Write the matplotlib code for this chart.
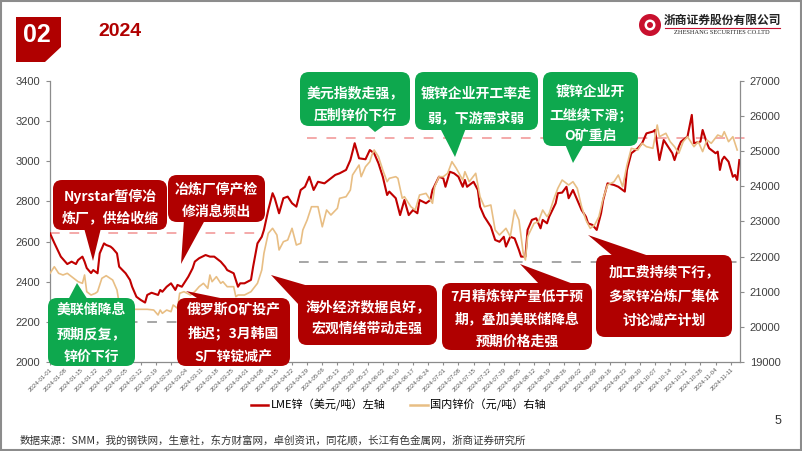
import matplotlib
matplotlib.use('Agg')
import matplotlib.pyplot as plt
import matplotlib.transforms as mtransforms
from matplotlib.patches import FancyBboxPatch, Polygon, Rectangle, Circle
from matplotlib.lines import Line2D
import pandas as pd

# ---------------- data ----------------
lme_days = [0, 2, 5, 7, 8, 10, 12, 13, 15, 16, 17, 19, 20, 22, 23, 25, 26, 28, 29, 31, 32, 35, 37, 38, 40,
            42, 44, 45, 47, 50, 51, 52, 54, 56, 58, 59, 61, 62, 64, 66, 67, 69, 72, 74, 76, 79, 81, 82, 85,
            87, 88, 90, 93, 94, 96, 98, 99, 101, 103, 104, 106, 108, 110, 112, 114, 116, 118, 120, 122, 124,
            127, 130, 132, 134, 137, 139, 141, 143, 146, 148, 150, 152, 154, 156, 157, 160, 162, 164, 166,
            168, 170, 171, 174, 176, 177, 180, 182, 183, 185, 187, 189, 191, 192, 193, 196, 198, 199, 201,
            204, 206, 208, 210, 211, 213, 215, 217, 218, 220, 221, 223, 225, 227, 228, 230, 231, 234, 235,
            237, 239, 240, 242, 244, 246, 248, 249, 251, 253, 255, 256, 258, 261, 263, 265, 266, 267, 269,
            272, 274, 276, 279, 280, 282, 284, 286, 288, 289, 291, 292, 295, 297, 298, 301, 302, 304, 305,
            308, 309, 310, 311, 312, 314, 316, 317, 318, 319]
lme_vals = [2641, 2593, 2525, 2500, 2488, 2500, 2488, 2508, 2525, 2500, 2468, 2443, 2458, 2442, 2541, 2591,
            2583, 2575, 2566, 2541, 2475, 2442, 2409, 2375, 2325, 2309, 2296, 2334, 2345, 2334, 2359, 2350,
            2375, 2392, 2359, 2384, 2375, 2392, 2425, 2467, 2500, 2517, 2533, 2525, 2525, 2500, 2475, 2458,
            2442, 2375, 2392, 2392, 2409, 2475, 2591, 2624, 2658, 2757, 2841, 2816, 2741, 2816, 2824, 2791,
            2774, 2857, 2873, 2923, 2857, 2898, 2890, 2915, 2932, 2940, 2957, 3006, 3090, 3015, 3010, 3056,
            3040, 2990, 2923, 2832, 2849, 2816, 2732, 2807, 2732, 2757, 2741, 2807, 2791, 2807, 2857, 2923,
            2915, 2873, 2948, 2940, 2923, 2873, 2907, 2873, 2898, 2857, 2774, 2724, 2674, 2608, 2599, 2624,
            2575, 2624, 2616, 2558, 2525, 2525, 2658, 2708, 2716, 2666, 2708, 2691, 2724, 2791, 2841, 2844,
            2873, 2816, 2857, 2807, 2757, 2724, 2691, 2683, 2658, 2741, 2807, 2890, 2882, 2873, 2857, 2849,
            2957, 3040, 3065, 3090, 3139, 3148, 3156, 3006, 3106, 3073, 3040, 3006, 3073, 3098, 3123, 3231,
            3090, 3098, 3156, 3090, 3065, 3040, 3048, 2957, 3006, 3023, 2998, 2923, 2932, 2907, 3006]

cn_days = [0, 2, 4, 6, 8, 11, 13, 15, 16, 17, 19, 21, 22, 24, 26, 29, 31, 32, 35, 37, 39, 43, 45, 48, 50,
           51, 52, 54, 56, 57, 59, 60, 62, 65, 67, 69, 71, 73, 74, 75, 77, 79, 80, 82, 85, 86, 87, 90, 93,
           96, 98, 99, 101, 103, 105, 106, 108, 110, 112, 114, 116, 117, 119, 121, 124, 126, 128, 130, 133,
           134, 137, 139, 140, 143, 144, 146, 148, 149, 150, 152, 154, 156, 157, 160, 161, 163, 164, 167,
           169, 171, 174, 177, 178, 180, 182, 184, 186, 188, 191, 192, 194, 197, 199, 201, 204, 206, 208,
           211, 213, 215, 217, 219, 220, 221, 224, 226, 228, 230, 231, 233, 235, 237, 240, 242, 244, 246,
           248, 250, 252, 254, 256, 258, 261, 263, 265, 267, 269, 272, 274, 276, 279, 281, 282, 285, 287,
           289, 291, 293, 295, 298, 300, 302, 304, 306, 309, 311, 312, 314, 316, 317, 318]
cn_vals = [21525, 21713, 21525, 21477, 21525, 21383, 21287, 21240, 21477, 21002, 20907, 20956, 21002, 21383,
           21457, 21334, 21050, 20671, 20576, 20529, 20500, 20500, 20500, 20480, 20338, 20480, 20386, 20480,
           20432, 20623, 20529, 20956, 21002, 20907, 21002, 21144, 21240, 21098, 21477, 21287, 21429, 21240,
           21287, 21144, 21144, 20859, 20907, 20907, 21002, 21240, 21619, 22095, 22664, 22806, 22616, 22189,
           22425, 22473, 22806, 22331, 22379, 22758, 23043, 23421, 23421, 22849, 23328, 23185, 23376, 23660,
           23706, 23897, 24324, 24608, 24276, 24560, 24703, 24900, 25036, 24845, 24466, 24133, 24229, 24276,
           24229, 23660, 23706, 23421, 23327, 23754, 23801, 23518, 23990, 24276, 24276, 24372, 24703, 24515,
           24181, 24418, 24133, 24372, 23706, 23421, 23470, 22758, 22616, 22806, 22567, 23327, 23043, 22095,
           21904, 22567, 22948, 22994, 23327, 23137, 23233, 23612, 23945, 24181, 24039, 24133, 23945, 23421,
           23043, 22806, 22899, 23137, 23660, 24039, 24133, 24324, 23990, 24608, 25084, 25036, 25226, 25130,
           25084, 25747, 25414, 25511, 25272, 25130, 24942, 25272, 25414, 25130, 25272, 24990, 25320, 25226,
           25462, 25414, 25557, 25272, 25414, 25226, 25036]

lme_label = 'LME锌（美元/吨）左轴'
cn_label = '国内锌价（元/吨）右轴'

# reference dashed levels (left-axis units) and their day extents
ref_levels = [2645, 2200, 2500, 3115]
ref_starts = [0, 0, 115, 119]
ref_ends = [96, 59, 319.5, 321.5]
ref_colors = ['#F4A9A9', '#A6A6A6', '#A6A6A6', '#F4A9A9']

left_ticks = [2000, 2200, 2400, 2600, 2800, 3000, 3200, 3400]
right_ticks = [19000, 20000, 21000, 22000, 23000, 24000, 25000, 26000, 27000]

START = pd.Timestamp('2024-01-01')
lme_dates = START + pd.to_timedelta(lme_days, unit='D')
cn_dates = START + pd.to_timedelta(cn_days, unit='D')
tick_dates = pd.date_range('2024-01-01', '2024-11-11', freq='7D')

RED = '#B00000'
GREEN = '#0EA84E'
LINE_RED = '#C00000'
LINE_TAN = '#E8BE84'
CJK = ['Noto Sans CJK SC', 'DejaVu Sans']

plt.rcParams['font.family'] = ['Liberation Sans', 'Noto Sans CJK SC', 'DejaVu Sans']

W, H = 802, 451
fig = plt.figure(figsize=(W / 100, H / 100), dpi=100)
PX = mtransforms.Affine2D().scale(1 / W, -1 / H).translate(0, 1) + fig.transFigure

# ---------------- chart ----------------
ax = fig.add_axes([50 / W, 1 - 362 / H, 690 / W, 281 / H])
ax2 = ax.twinx()

ax.plot(lme_dates, lme_vals, color=LINE_RED, lw=1.5, zorder=3)
ax2.plot(cn_dates, cn_vals, color=LINE_TAN, lw=1.2, zorder=2)

for lvl, s, e, c in zip(ref_levels, ref_starts, ref_ends, ref_colors):
    ax.plot([START + pd.Timedelta(days=s), START + pd.Timedelta(days=e)], [lvl, lvl],
            color=c, lw=1.4, dashes=(5, 5), clip_on=False, zorder=1)

ax.set_xlim(START, START + pd.Timedelta(days=319.3))
ax.set_ylim(2000, 3400)
ax2.set_ylim(19000, 27000)
ax.set_yticks(left_ticks)
ax2.set_yticks(right_ticks)
ax.set_xticks(tick_dates)
ax.set_xticklabels([d.strftime('%Y-%m-%d') for d in tick_dates], rotation=45, ha='right', va='top',
                   rotation_mode='anchor', fontsize=4.3, color='#595959')

for a in (ax, ax2):
    a.patch.set_visible(False)
    a.spines['top'].set_visible(False)
    for s in ('left', 'right', 'bottom'):
        a.spines[s].set_color('#8C8C8C')
        a.spines[s].set_linewidth(0.9)
ax.spines['right'].set_visible(False)
ax2.spines['left'].set_visible(False)
ax2.spines['bottom'].set_visible(False)
ax.tick_params(axis='y', length=3, color='#8C8C8C', labelsize=8, labelcolor='#404040', pad=4)
ax2.tick_params(axis='y', length=3, color='#8C8C8C', labelsize=8, labelcolor='#404040', pad=4)
ax.tick_params(axis='x', length=2, color='#8C8C8C', pad=1.5)

# ---------------- header ----------------
fig.patches.append(Rectangle((1, 1), W - 2, H - 2, transform=PX, fill=False, ec='#8C8C8C', lw=1.5))
fig.patches.append(Polygon([(16, 17), (61, 17), (61, 47), (45, 62), (16, 62)], closed=True,
                           transform=PX, fc=RED, ec='none'))
fig.text(37, 35, '02', transform=PX, color='white', fontsize=18, fontweight='bold', ha='center', va='center')
fig.text(98, 31, '2024', transform=PX, color=RED, fontsize=14, fontweight='bold', ha='left', va='center')

# logo
fig.patches.append(Circle((650, 25), 11, transform=PX, fc='#C8102E', ec='none'))
fig.patches.append(Circle((650, 25), 5.5, transform=PX, fc='white', ec='none'))
fig.patches.append(Circle((650, 25), 3, transform=PX, fc='#C8102E', ec='none'))
fig.text(722, 20, '浙商证券股份有限公司', transform=PX, family=CJK, fontsize=8.5, fontweight='bold',
         color='#222222', ha='center', va='center')
fig.lines.append(Line2D([665, 780], [28, 28], transform=PX, color='#C8102E', lw=0.8))
fig.text(722, 33, 'ZHESHANG SECURITIES CO.LTD', transform=PX, family=['Liberation Serif'], fontsize=4.6,
         color='#222222', ha='center', va='center')

# ---------------- callouts ----------------
def callout(rect, color, lines, ys, pointer):
    x0, y0, x1, y1 = rect
    fig.patches.append(Polygon(pointer, closed=True, transform=PX, fc=color, ec='none', zorder=5))
    fig.patches.append(FancyBboxPatch((x0, y0), x1 - x0, y1 - y0, boxstyle='round,pad=0,rounding_size=9',
                                      transform=PX, fc=color, ec='none', zorder=5))
    cx = (x0 + x1) / 2
    for t, y in zip(lines, ys):
        fig.text(cx, y, t, transform=PX, family=CJK, fontsize=10, fontweight='bold', color='white',
                 ha='center', va='center', zorder=6)

callout((48, 298, 135, 366), GREEN, ['美联储降息', '预期反复，', '锌价下行'], [310, 334, 357],
        [(68, 300), (88, 300), (77, 283)])
callout((53, 180, 167, 230), RED, ['Nyrstar暂停冶', '炼厂，供给收缩'], [196, 219],
        [(84, 228), (101, 228), (93, 261)])
callout((168, 175, 265, 222), RED, ['冶炼厂停产检', '修消息频出'], [190, 212],
        [(184, 220), (205, 220), (181, 264)])
callout((177, 298, 290, 366), RED, ['俄罗斯O矿投产', '推迟；3月韩国', 'S厂锌锭减产'], [310, 333, 357],
        [(200, 300), (230, 300), (186, 291)])
callout((298, 285, 437, 345), RED, ['海外经济数据良好，', '宏观情绪带动走强'], [307, 329],
        [(299, 305), (312, 287), (271, 275)])
callout((300, 72, 410, 126), GREEN, ['美元指数走强，', '压制锌价下行'], [93, 116],
        [(366, 124), (386, 124), (375, 132)])
callout((415, 72, 538, 130), GREEN, ['镀锌企业开工率走', '弱，下游需求弱'], [94, 118],
        [(440, 128), (466, 128), (455, 157)])
callout((543, 72, 638, 146), GREEN, ['镀锌企业开', '工继续下滑；', 'O矿重启'], [92, 115, 137],
        [(565, 144), (584, 144), (573, 163)])
callout((442, 283, 592, 350), RED, ['7月精炼锌产量低于预', '期，叠加美联储降息', '预期价格走强'], [297, 320, 342],
        [(540, 285), (576, 285), (520, 264)])
callout((596, 255, 732, 337), RED, ['加工费持续下行，', '多家锌冶炼厂集体', '讨论减产计划'], [272, 297, 321],
        [(614, 257), (652, 257), (588, 235)])

# ---------------- legend & footer ----------------
handles = [Line2D([], [], color=LINE_RED, lw=1.8), Line2D([], [], color=LINE_TAN, lw=1.8)]
fig.legend(handles, [lme_label, cn_label], loc='center', bbox_to_anchor=(398 / W, 1 - 405 / H), ncol=2,
           frameon=False, handlelength=1.6, handletextpad=0.2, columnspacing=2.2,
           prop={'family': CJK, 'size': 8})
fig.text(778, 421, '5', transform=PX, fontsize=9, color='#333333', ha='center', va='center')
fig.text(20, 440, '数据来源：SMM，我的钢铁网，生意社，东方财富网，卓创资讯，同花顺，长江有色金属网，浙商证券研究所',
         transform=PX, family=CJK, fontsize=7.6, color='#333333', ha='left', va='center')

fig.savefig('out.png', dpi=100)
